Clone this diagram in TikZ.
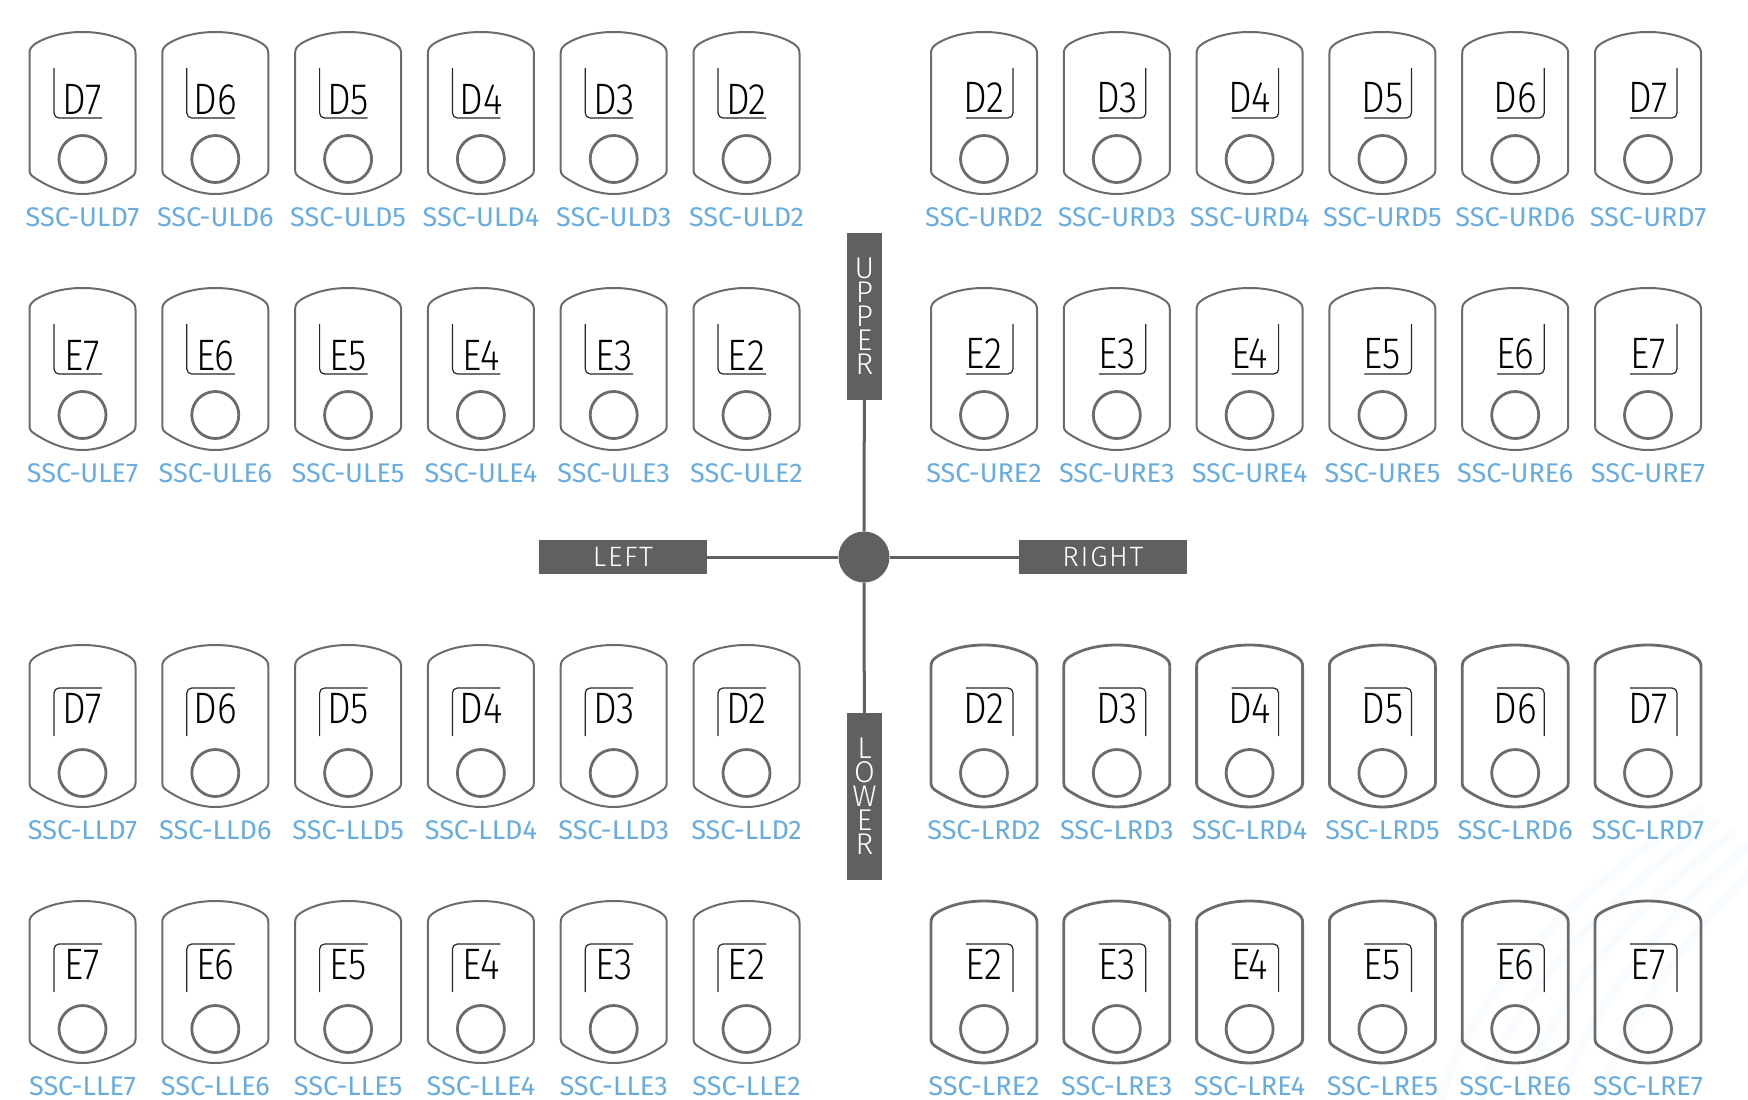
\documentclass[tikz,border=0pt]{standalone}
\usepackage{fontspec}
\setmainfont{Fira Sans}
\newfontfamily\lightfont{Fira Sans Light}
\definecolor{toothgray}{HTML}{6A6B6D}
\definecolor{boxgray}{HTML}{5F6062}
\definecolor{lblblue}{HTML}{66ACE0}
\tikzset{
  tooth/.style={draw=toothgray, line width=2pt},
  bracket/.style={draw=black!85, line width=1.2pt, rounded corners=5pt},
  toothtext/.style={anchor=base, inner sep=0pt, xscale=0.85, font=\lightfont\fontsize{44}{50}\selectfont},
  socket/.style={circle, draw=toothgray, line width=2.8pt, minimum size=47pt, inner sep=0pt},
  lbl/.style={text=lblblue, inner sep=0pt, font=\fontsize{27}{30}\selectfont},
  axisbox/.style={fill=boxgray, text=white, inner sep=0pt},
  axisline/.style={draw=boxgray, line width=3pt},
}
\begin{document}
\begin{tikzpicture}[x=1pt, y=-1pt]
  \useasboundingbox (0,0) rectangle (1748,1100);
  % faint swirl in the corner
  \foreach \s in {0,40,80,120,160}
    \draw[lblblue!4, line width=9pt, line cap=round]
      (1440+\s,1100) .. controls (1470+\s,1000) and (1560+\s,900) .. (1700+\s*0.4,810+\s*0.3);

  % teeth: quadrant / first x / numbering / bracket / row top / outline
  \foreach \q/\xa/\noff/\nsign/\bx/\ex/\ys/\yh/\tb/\cy/\ty/\lw in {
      UL/82.5/7/-1/-28.5/19.5/36/86/82/127/32/2,
      UR/984/2/1/29/-18/36/86/80/127/32/2,
      LL/82.5/7/-1/-28.5/19.5/91/43/78/128/645/2,
      LR/984/2/1/29/-18/91/43/78/128/645/2.8}
    \foreach \tooth/\dy in {D/0,E/256}
      \foreach \i in {0,...,5} {
        \pgfmathsetmacro\cx{\xa+132.8*\i}
        \pgfmathsetmacro\rowtop{\ty+\dy}
        \pgfmathtruncatemacro\n{\noff+\nsign*\i}
        \begin{scope}[shift={(\cx,\rowtop)}]
          \draw[tooth, line width=\lw pt] (0,0) .. controls (20,0) and (36,5) .. (46,11)
            .. controls (52,15) and (53,17) .. (53,22) -- (53,138)
            .. controls (53,142) and (51,144) .. (46,147)
            .. controls (30,157) and (15,162) .. (0,162)
            .. controls (-15,162) and (-30,157) .. (-46,147)
            .. controls (-51,144) and (-53,142) .. (-53,138) -- (-53,22)
            .. controls (-53,17) and (-52,15) .. (-46,11)
            .. controls (-36,5) and (-20,0) .. cycle;
          \draw[bracket] (\bx,\ys) |- (\ex,\yh);
          \node[toothtext] (t-\q\tooth\n) at (0,\tb) {\tooth\n};
          \node[socket] (s-\q\tooth\n) at (0,\cy) {};
          \node[lbl] (l-\q\tooth\n) at (0,185) {SSC-\q\tooth\n};
        \end{scope}
      }

  % axes
  \node[circle, fill=boxgray, minimum size=51pt, inner sep=0pt] (hub) at (864,557) {};
  \node[axisbox, minimum width=35pt, minimum height=167pt, align=center,
        font=\lightfont\fontsize{30}{24}\selectfont] (upper) at (864.5,316.5) {U\\P\\P\\E\\R};
  \node[axisbox, minimum width=35pt, minimum height=167pt, align=center,
        font=\lightfont\fontsize{30}{24}\selectfont] (lower) at (864.5,796.5) {L\\O\\W\\E\\R};
  \node[axisbox, minimum width=168pt, minimum height=34pt,
        font=\lightfont\fontsize{28}{30}\selectfont\addfontfeature{LetterSpace=6}] (left) at (623,557) {LEFT};
  \node[axisbox, minimum width=168pt, minimum height=34pt,
        font=\lightfont\fontsize{28}{30}\selectfont\addfontfeature{LetterSpace=6}] (right) at (1103,557) {RIGHT};
  \draw[axisline] (upper) -- (hub);
  \draw[axisline] (hub) -- (lower);
  \draw[axisline] (left) -- (hub);
  \draw[axisline] (hub) -- (right);
\end{tikzpicture}
\end{document}
